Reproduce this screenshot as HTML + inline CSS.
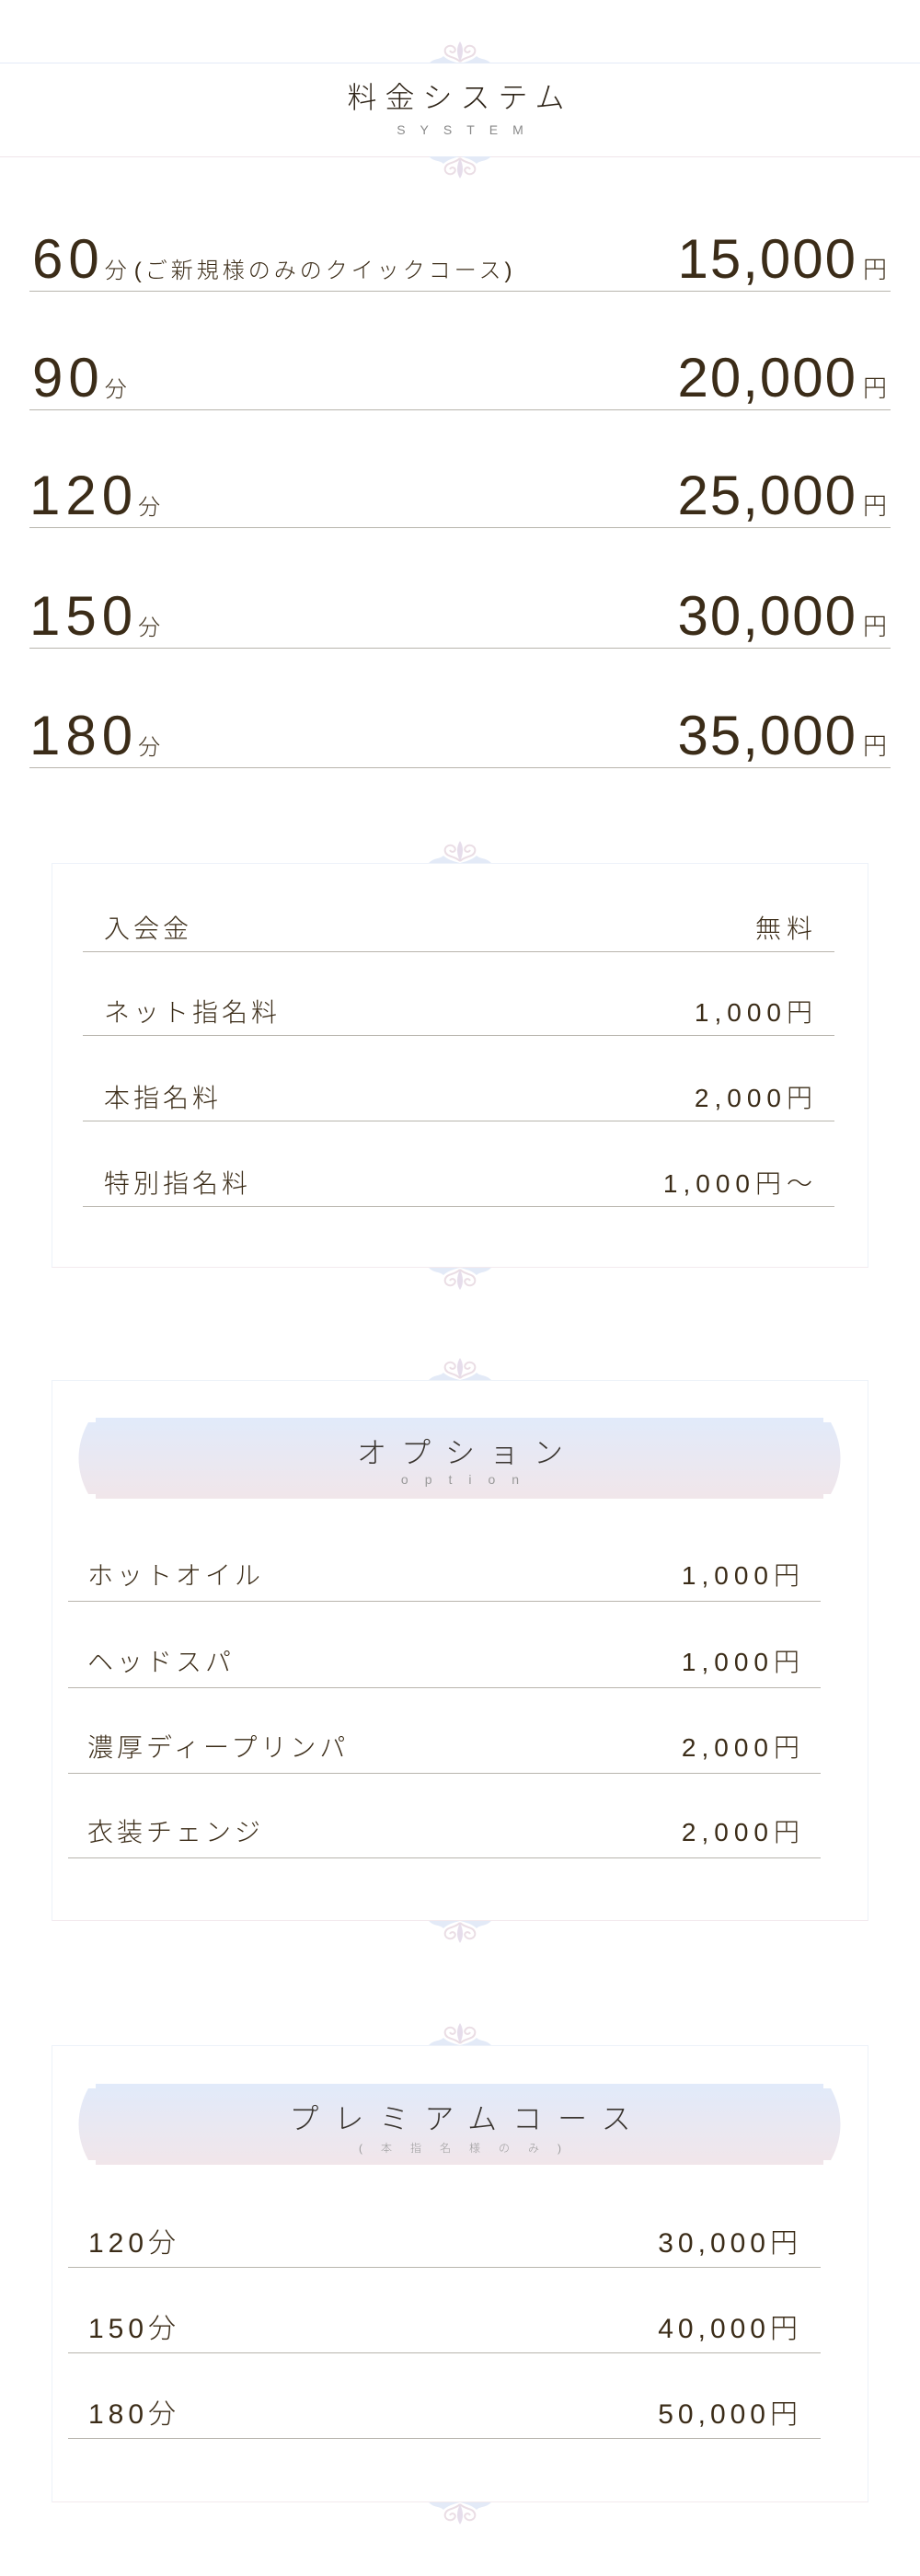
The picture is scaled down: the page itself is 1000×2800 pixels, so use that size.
<!DOCTYPE html>
<html><head><meta charset="utf-8"><style>
*{margin:0;padding:0;box-sizing:border-box}
body{width:1000px;height:2800px;background:#fff;position:relative;overflow:hidden;font-family:"Liberation Sans","Noto Sans CJK JP",sans-serif;color:#3b2c18;font-weight:300}
.a{position:absolute;white-space:nowrap}
.hl{position:absolute;height:1px}
.ln{position:absolute;height:1px;background:#b8b5ad}
.box{position:absolute;left:56px;width:888px;border:1px solid #edf2f9;border-bottom-color:#f3eaee}
.big{font-size:60px;line-height:60px;letter-spacing:2px}
.big .n{letter-spacing:6px}
.big .m{font-size:24px;letter-spacing:0}
.big .p{font-size:24px;letter-spacing:4px;margin-left:8px}
.big .y{font-size:26px;letter-spacing:0;margin-left:6px}
.md{font-size:28px;line-height:28px;letter-spacing:4px}
.pr{letter-spacing:6px}
.pm{font-size:30px;line-height:30px;letter-spacing:5px}
.orn{position:absolute;left:464px;width:72px;height:26px}
</style></head><body>
<svg width="0" height="0" style="position:absolute"><defs>
<g id="o">
<path d="M36 24 C30 18 22 20 20 14 C18 8 26 4 30 9 C33 13 27 16 25 12" fill="none" stroke="#eadde4" stroke-width="2"/>
<path d="M36 24 C42 18 50 20 52 14 C54 8 46 4 42 9 C39 13 45 16 47 12" fill="none" stroke="#eadde4" stroke-width="2"/>
<path d="M36 2 C32 8 32 16 36 24 C40 16 40 8 36 2Z" fill="#e6ddeb"/>
<path d="M2 26 C8 20 14 22 18 18 C22 22 28 24 36 26 C44 24 50 22 54 18 C58 22 64 20 70 26Z" fill="#e3eaf7"/>
</g></defs></svg>

<!-- header -->
<svg class="orn" style="top:43px" viewBox="0 0 72 26"><use href="#o"/></svg>
<div class="hl" style="top:68px;left:0;width:1000px;background:#e3eaf7"></div>
<div class="a" style="top:88px;left:0;width:1000px;text-align:center;font-size:32px;line-height:36px;letter-spacing:9px;color:#2e2418">料金システム</div>
<div class="a" style="top:133px;left:0;width:1000px;text-align:center;font-size:14px;line-height:16px;letter-spacing:16px;color:#8a8a8a;padding-left:16px">SYSTEM</div>
<div class="hl" style="top:170px;left:0;width:1000px;background:#f0e4ea"></div>
<svg class="orn" style="top:170px;transform:scaleY(-1)" viewBox="0 0 72 26"><use href="#o"/></svg>

<!-- big rows -->
<div class="ln" style="top:316px;left:32px;width:936px"></div>
<div class="a big" style="top:252px;left:35px"><span class="n">60</span><span class="m">分</span><span class="p">(ご新規様のみのクイックコース)</span></div>
<div class="a big" style="top:252px;right:36px">15,000<span class="y">円</span></div>
<div class="ln" style="top:445px;left:32px;width:936px"></div>
<div class="a big" style="top:381px;left:35px"><span class="n">90</span><span class="m">分</span></div>
<div class="a big" style="top:381px;right:36px">20,000<span class="y">円</span></div>
<div class="ln" style="top:573px;left:32px;width:936px"></div>
<div class="a big" style="top:509px;left:32px"><span class="n">120</span><span class="m">分</span></div>
<div class="a big" style="top:509px;right:36px">25,000<span class="y">円</span></div>
<div class="ln" style="top:704px;left:32px;width:936px"></div>
<div class="a big" style="top:640px;left:32px"><span class="n">150</span><span class="m">分</span></div>
<div class="a big" style="top:640px;right:36px">30,000<span class="y">円</span></div>
<div class="ln" style="top:834px;left:32px;width:936px"></div>
<div class="a big" style="top:770px;left:32px"><span class="n">180</span><span class="m">分</span></div>
<div class="a big" style="top:770px;right:36px">35,000<span class="y">円</span></div>

<!-- fees box -->
<svg class="orn" style="top:912px" viewBox="0 0 72 26"><use href="#o"/></svg>
<div class="box" style="top:938px;height:440px"></div>
<svg class="orn" style="top:1378px;transform:scaleY(-1)" viewBox="0 0 72 26"><use href="#o"/></svg>
<div class="ln" style="top:1034px;left:90px;width:817px"></div>
<div class="a md" style="top:996px;left:113px">入会金</div>
<div class="a md pr" style="top:996px;right:111px">無料</div>
<div class="ln" style="top:1125px;left:90px;width:817px"></div>
<div class="a md" style="top:1087px;left:113px">ネット指名料</div>
<div class="a md pr" style="top:1087px;right:111px">1,000円</div>
<div class="ln" style="top:1218px;left:90px;width:817px"></div>
<div class="a md" style="top:1180px;left:113px">本指名料</div>
<div class="a md pr" style="top:1180px;right:111px">2,000円</div>
<div class="ln" style="top:1311px;left:90px;width:817px"></div>
<div class="a md" style="top:1273px;left:113px">特別指名料</div>
<div class="a md pr" style="top:1273px;right:111px">1,000円～</div>

<!-- option box -->
<svg class="orn" style="top:1474px" viewBox="0 0 72 26"><use href="#o"/></svg>
<div class="box" style="top:1500px;height:588px"></div>
<svg class="orn" style="top:2088px;transform:scaleY(-1)" viewBox="0 0 72 26"><use href="#o"/></svg>
<svg class="a" style="top:1541px;left:83px;overflow:visible" width="833" height="88" viewBox="0 0 833 88">
<defs><linearGradient id="g" x1="0" y1="0" x2="0" y2="1"><stop offset="0" stop-color="#e1eafa"/><stop offset="1" stop-color="#f1e6ea"/></linearGradient></defs>
<path d="M21 0H812V5H820C834 30 834 58 820 83H812V88H21V83H13C-1 58 -1 30 13 5H21Z" fill="url(#g)"/>
</svg>
<div class="a" style="top:1561px;left:0;width:1000px;text-align:center;font-size:32px;line-height:36px;letter-spacing:16px;padding-left:16px;color:#3a3530">オプション</div>
<div class="a" style="top:1600px;left:0;width:1000px;text-align:center;font-size:14px;line-height:16px;letter-spacing:18px;padding-left:18px;color:#9a9a9a">option</div>
<div class="ln" style="top:1740px;left:74px;width:818px"></div>
<div class="a md" style="top:1699px;left:95px">ホットオイル</div>
<div class="a md pr" style="top:1699px;right:125px">1,000円</div>
<div class="ln" style="top:1834px;left:74px;width:818px"></div>
<div class="a md" style="top:1793px;left:95px">ヘッドスパ</div>
<div class="a md pr" style="top:1793px;right:125px">1,000円</div>
<div class="ln" style="top:1927px;left:74px;width:818px"></div>
<div class="a md" style="top:1886px;left:95px">濃厚ディープリンパ</div>
<div class="a md pr" style="top:1886px;right:125px">2,000円</div>
<div class="ln" style="top:2019px;left:74px;width:818px"></div>
<div class="a md" style="top:1978px;left:95px">衣装チェンジ</div>
<div class="a md pr" style="top:1978px;right:125px">2,000円</div>

<!-- premium box -->
<svg class="orn" style="top:2197px" viewBox="0 0 72 26"><use href="#o"/></svg>
<div class="box" style="top:2223px;height:497px"></div>
<svg class="orn" style="top:2720px;transform:scaleY(-1)" viewBox="0 0 72 26"><use href="#o"/></svg>
<svg class="a" style="top:2265px;left:83px;overflow:visible" width="833" height="88" viewBox="0 0 833 88">
<path d="M21 0H812V5H820C834 30 834 58 820 83H812V88H21V83H13C-1 58 -1 30 13 5H21Z" fill="url(#g)"/>
</svg>
<div class="a" style="top:2285px;left:0;width:1000px;text-align:center;font-size:32px;line-height:36px;letter-spacing:17px;padding-left:17px;color:#3a3530">プレミアムコース</div>
<div class="a" style="top:2328px;left:0;width:1000px;text-align:center;font-size:12px;line-height:14px;letter-spacing:20px;padding-left:20px;color:#9a9a9a">(本指名様のみ)</div>
<div class="ln" style="top:2464px;left:74px;width:818px"></div>
<div class="a pm" style="top:2424px;left:96px">120分</div>
<div class="a pm" style="top:2424px;right:128px">30,000円</div>
<div class="ln" style="top:2557px;left:74px;width:818px"></div>
<div class="a pm" style="top:2517px;left:96px">150分</div>
<div class="a pm" style="top:2517px;right:128px">40,000円</div>
<div class="ln" style="top:2650px;left:74px;width:818px"></div>
<div class="a pm" style="top:2610px;left:96px">180分</div>
<div class="a pm" style="top:2610px;right:128px">50,000円</div>
</body></html>
